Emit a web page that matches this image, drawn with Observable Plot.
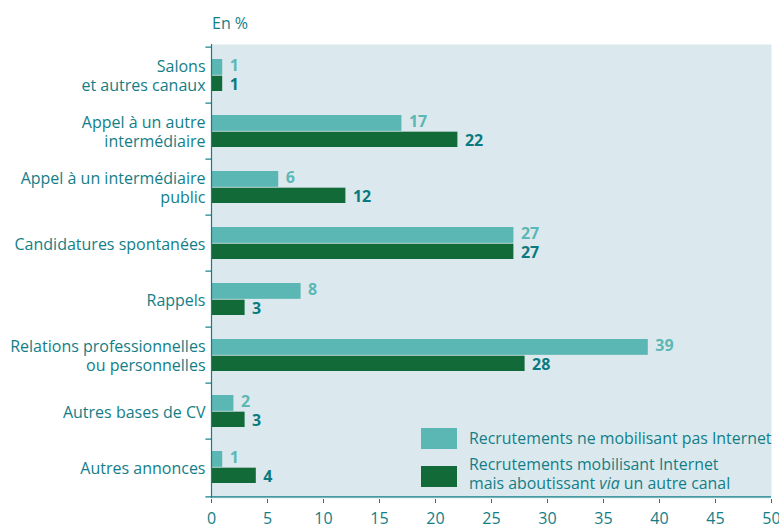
<!DOCTYPE html>
<html>
<head>
<meta charset="utf-8">
<script src="https://cdn.jsdelivr.net/npm/d3@7"></script>
<script src="https://cdn.jsdelivr.net/npm/@observablehq/plot@0.6"></script>
<style>
  html, body { margin: 0; padding: 0; background: #ffffff; }
  #wrap { position: relative; width: 779px; height: 524px; overflow: hidden; font-family: "Open Sans", sans-serif; }
  #unit { position: absolute; left: 212px; top: 12px; font-size: 16px; color: #137e87; }
  .lg-sw { position: absolute; left: 421px; width: 36px; height: 21px; }
  .lg-tx { position: absolute; left: 469px; font-size: 15.9px; line-height: 19px; color: #137e87; white-space: nowrap; }
</style>
</head>
<body>
<div id="wrap">
  <div id="unit">En %</div>
</div>
<script>
const categories = [
  "Salons\net autres canaux",
  "Appel à un autre\nintermédiaire",
  "Appel à un intermédiaire\npublic",
  "Candidatures spontanées",
  "Rappels",
  "Relations professionnelles\nou personnelles",
  "Autres bases de CV",
  "Autres annonces"
];
const sansInternet = [1, 17, 6, 27, 8, 39, 2, 1];
const viaAutreCanal = [1, 22, 12, 27, 3, 28, 3, 4];
const seriesNames = [
  "Recrutements ne mobilisant pas Internet",
  "Recrutements mobilisant Internet<br>mais aboutissant <i>via</i> un autre canal"
];
const xTicks = [0, 5, 10, 15, 20, 25, 30, 35, 40, 45, 50];

const teal = "#137e87";
const lightC = "#5ab7b3";
const darkC = "#126a39";
const lightLabel = "#5cb8b4";
const darkLabel = "#0b7a80";
const bg = "#dbe9ee";

const W = 779, H = 524, mT = 44, mB = 26, mL = 211, mR = 8;
const band = (H - mT - mB) / categories.length;
const half = band / 2;

const light = categories.map((c, i) => ({cat: c, v: sansInternet[i]}));
const dark = categories.map((c, i) => ({cat: c, v: viaAutreCanal[i]}));

const chart = Plot.plot({
  width: W, height: H,
  marginTop: mT, marginBottom: mB, marginLeft: mL, marginRight: mR,
  style: {fontFamily: "Open Sans, sans-serif", fontSize: "16px", background: "transparent", overflow: "hidden"},
  x: {domain: [0, 50], ticks: xTicks},
  y: {domain: categories, padding: 0},
  marks: [
    Plot.frame({fill: bg, stroke: null}),
    Plot.barX(light, {x: "v", y: "cat", fill: lightC, insetTop: 12, insetBottom: half - 0.2}),
    Plot.barX(dark, {x: "v", y: "cat", fill: darkC, insetTop: half + 0.3, insetBottom: 12}),
    Plot.text(light, {x: "v", y: "cat", text: d => String(d.v), dx: 7, dy: -(half - 12) / 2 - 1, textAnchor: "start", fill: lightLabel, fontWeight: "bold", fontSize: 16}),
    Plot.text(dark, {x: "v", y: "cat", text: d => String(d.v), dx: 7, dy: (half - 12) / 2 + 1, textAnchor: "start", fill: darkLabel, fontWeight: "bold", fontSize: 16}),
    Plot.ruleX([0], {stroke: teal, strokeWidth: 1.2}),
    Plot.ruleY(categories, {y: d => d, x1: -0.5, x2: 0, dy: -half, stroke: teal, strokeWidth: 1.2}),
    Plot.ruleY([categories[categories.length - 1]], {y: d => d, x1: -0.5, x2: 50, dy: half + 1, stroke: teal, strokeWidth: 1.2}),
    Plot.axisY({tickSize: 0, tickPadding: 6, lineHeight: 1.2, fill: teal, fontSize: 16, label: null, tickFormat: d => d}),
    Plot.axisX({ticks: xTicks, tickSize: 4, tickPadding: 9, dy: 1, stroke: teal, fill: teal, fontSize: 16, label: null, tickFormat: d => String(d)})
  ]
});
const wrap = document.getElementById("wrap");
chart.style.position = "absolute";
chart.style.left = "0px";
chart.style.top = "0px";
wrap.appendChild(chart);

[[lightC, 428], [darkC, 466]].forEach(([col, top]) => {
  const sw = document.createElement("div");
  sw.className = "lg-sw";
  sw.style.top = top + "px";
  sw.style.background = col;
  wrap.appendChild(sw);
});
const t1 = document.createElement("div");
t1.className = "lg-tx"; t1.style.top = "429px"; t1.innerHTML = seriesNames[0];
wrap.appendChild(t1);
const t2 = document.createElement("div");
t2.className = "lg-tx"; t2.style.top = "455px"; t2.innerHTML = seriesNames[1];
wrap.appendChild(t2);
</script>
</body>
</html>
